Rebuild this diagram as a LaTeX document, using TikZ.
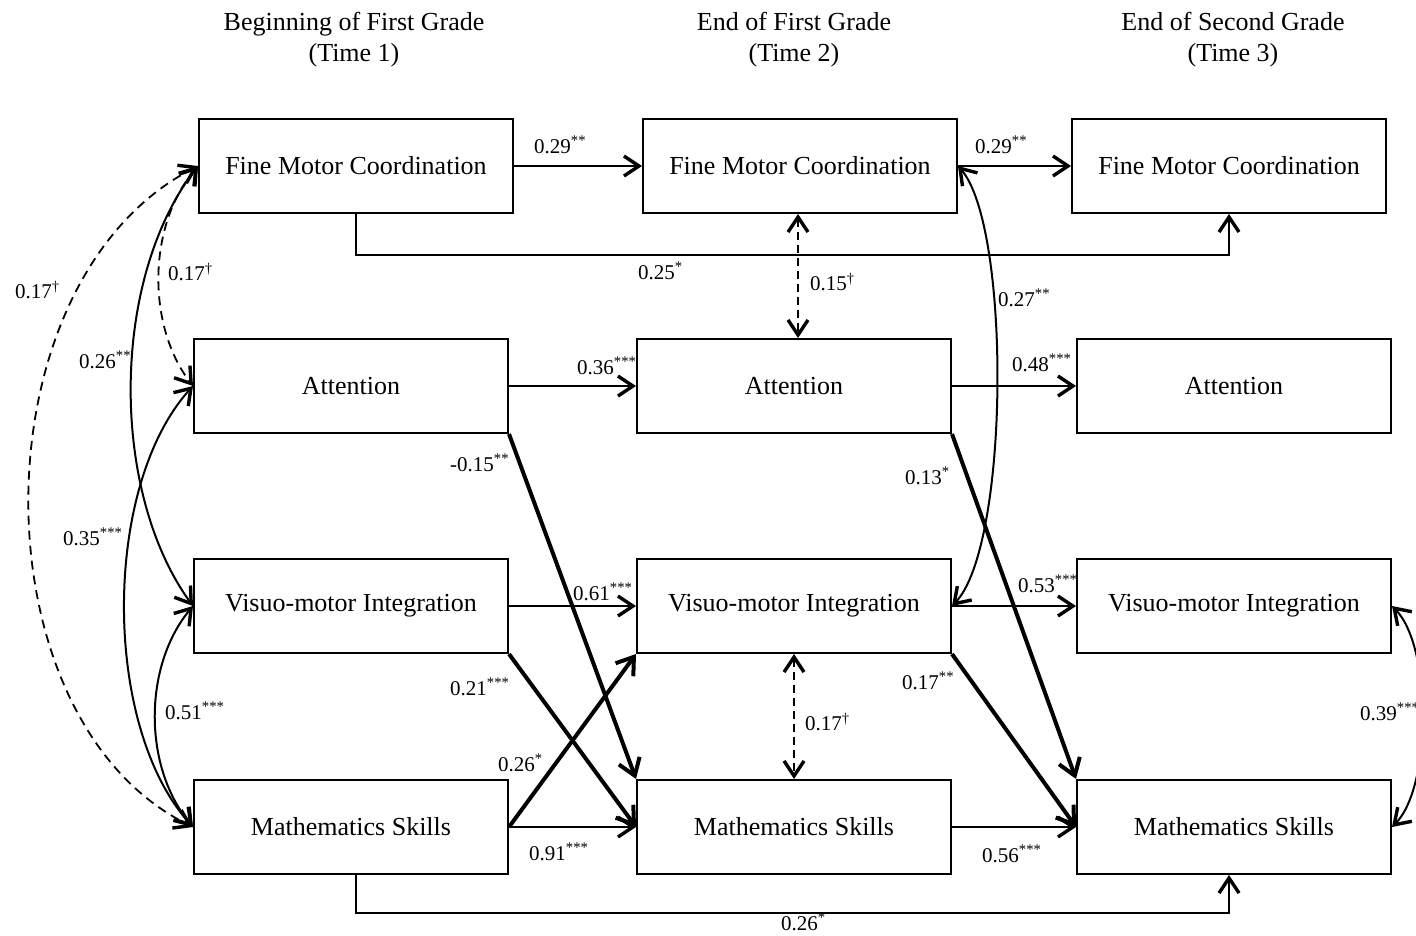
\documentclass[tikz,border=0pt]{standalone}
\usepackage{fontspec}
\setmainfont{Liberation Serif}
\usetikzlibrary{arrows.meta}
\begin{document}
\begin{tikzpicture}[x=1pt,y=1pt,
  box/.style={draw,line width=2pt,minimum width=314pt,minimum height=94pt,inner sep=0pt,font=\fontsize{26}{30}\selectfont},
  hdr/.style={align=center,inner sep=0pt,font=\fontsize{26}{31}\selectfont},
  lab/.style={anchor=west,inner sep=0pt,font=\fontsize{21}{24}\selectfont},
  tipthin/.tip={Straight Barb[length=15pt,width=20pt,line width=3.4pt]},
  tipthick/.tip={Straight Barb[length=16pt,width=22pt,line width=4pt]},
  arr/.style={line width=2pt,-tipthin},
  thk/.style={line width=4pt,-tipthick},
  dsh/.style={line width=2pt,dash pattern=on 8pt off 5pt,tipthin-tipthin},
  dshc/.style={line width=1.8pt,dash pattern=on 9pt off 6pt,tipthin-tipthin},
  crv/.style={line width=2pt,tipthin-tipthin}]
\useasboundingbox (0,0) rectangle (1416,-935);
% headers
\node[hdr] (h1) at (354,-40) {Beginning of First Grade\\(Time 1)};
\node[hdr] (h2) at (794,-40) {End of First Grade\\(Time 2)};
\node[hdr] (h3) at (1233,-40) {End of Second Grade\\(Time 3)};
% boxes
\node[box] (F1) at (356,-166) {Fine Motor Coordination};
\node[box] (A1) at (351,-386) {Attention};
\node[box] (V1) at (351,-606) {Visuo-motor Integration};
\node[box] (M1) at (351,-827) {Mathematics Skills};
\node[box] (F2) at (800,-166) {Fine Motor Coordination};
\node[box] (A2) at (794,-386) {Attention};
\node[box] (V2) at (794,-606) {Visuo-motor Integration};
\node[box] (M2) at (794,-827) {Mathematics Skills};
\node[box] (F3) at (1229,-166) {Fine Motor Coordination};
\node[box] (A3) at (1234,-386) {Attention};
\node[box] (V3) at (1234,-606) {Visuo-motor Integration};
\node[box] (M3) at (1234,-827) {Mathematics Skills};
% horizontal paths
\draw[arr] (F1.east) -- (F2.west);
\draw[arr] (F2.east) -- (F3.west);
\draw[arr] (A1.east) -- (A2.west);
\draw[arr] (A2.east) -- (A3.west);
\draw[arr] (V1.east) -- (V2.west);
\draw[arr] (V2.east) -- (V3.west);
\draw[arr] (M1.east) -- (M2.west);
\draw[arr] (M2.east) -- (M3.west);
\draw[arr] (F1.south) -- ++(0,-41) -| (F3.south);
\draw[arr] ([xshift=5pt]M1.south) -- ++(0,-38) -| ([xshift=-5pt]M3.south);
% thick cross-lagged
\draw[thk] (A1.south east) -- (M2.north west);
\draw[thk] (V1.south east) -- (M2.west);
\draw[thk] (M1.east) -- (V2.south west);
\draw[thk] (A2.south east) -- (M3.north west);
\draw[thk] (V2.south east) -- (M3.west);
% dashed correlations
\draw[dsh] ([xshift=-2pt]F2.south) -- ([xshift=4pt]A2.north);
\draw[dsh] (V2.south) -- (M2.north);
% curved correlations
\draw[dshc] (F1.west) .. controls +(-224,-114) and +(-219,107) .. (M1.west);
\draw[dshc] (F1.west) .. controls +(-51,-60) and +(-46,60) .. (A1.west);
\draw[crv] (F1.west) .. controls +(-88,-114) and +(-83,114) .. (V1.west);
\draw[crv] (A1.west) .. controls +(-91,-100) and +(-91,100) .. (M1.west);
\draw[crv] (V1.west) .. controls +(-50,-60) and +(-50,60) .. (M1.west);
\draw[crv] (F2.east) .. controls +(53,-60) and +(58,60) .. (V2.east);
\draw[crv] (V3.east) .. controls +(40,-40) and +(40,40) .. (M3.east);
% labels
\node[lab] (l1) at (534,-145) {0.29\textsuperscript{**}};
\node[lab] (l2) at (975,-145) {0.29\textsuperscript{**}};
\node[lab] (l3) at (638,-271) {0.25\textsuperscript{*}};
\node[lab] (l4) at (810,-282) {0.15\textsuperscript{†}};
\node[lab] (l5) at (15,-290) {0.17\textsuperscript{†}};
\node[lab] (l6) at (168,-272) {0.17\textsuperscript{†}};
\node[lab] (l7) at (79,-360) {0.26\textsuperscript{**}};
\node[lab] (l8) at (577,-366) {0.36\textsuperscript{***}};
\node[lab] (l9) at (1012,-363) {0.48\textsuperscript{***}};
\node[lab] (l10) at (998,-298) {0.27\textsuperscript{**}};
\node[lab] (l11) at (450,-463) {-0.15\textsuperscript{**}};
\node[lab] (l12) at (905,-476) {0.13\textsuperscript{*}};
\node[lab] (l13) at (63,-537) {0.35\textsuperscript{***}};
\node[lab] (l14) at (573,-592) {0.61\textsuperscript{***}};
\node[lab] (l15) at (1018,-584) {0.53\textsuperscript{***}};
\node[lab] (l16) at (450,-687) {0.21\textsuperscript{***}};
\node[lab] (l17) at (902,-681) {0.17\textsuperscript{**}};
\node[lab] (l18) at (165,-711) {0.51\textsuperscript{***}};
\node[lab] (l19) at (805,-722) {0.17\textsuperscript{†}};
\node[lab] (l20) at (1360,-712) {0.39\textsuperscript{***}};
\node[lab] (l21) at (498,-763) {0.26\textsuperscript{*}};
\node[lab] (l22) at (529,-852) {0.91\textsuperscript{***}};
\node[lab] (l23) at (982,-854) {0.56\textsuperscript{***}};
\node[lab] (l24) at (781,-922) {0.26\textsuperscript{*}};
\end{tikzpicture}
\end{document}
